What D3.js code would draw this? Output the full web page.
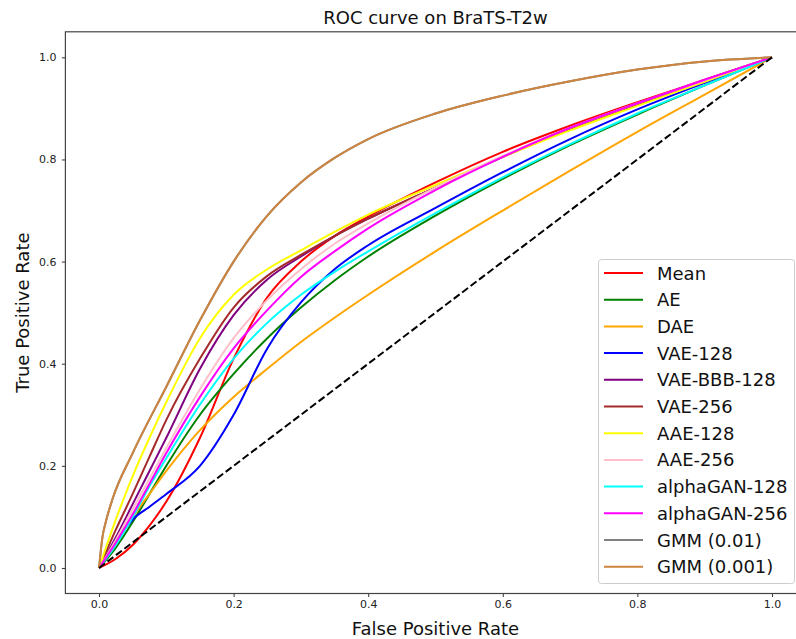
<!DOCTYPE html>
<html>
<head>
<meta charset="utf-8">
<script src="https://cdn.jsdelivr.net/npm/d3@7"></script>
<style>
  html, body { margin: 0; padding: 0; background: #fff; }
  svg { display: block; font-family: "DejaVu Sans", sans-serif; }
</style>
</head>
<body>
<svg id="chart" width="796" height="639"></svg>
<script>
// False positive rates shared by the model curves
const fprGrid = [0, 0.025, 0.05, 0.075, 0.1, 0.15, 0.2, 0.25, 0.3, 0.35, 0.4, 0.5, 0.6, 0.7, 0.8, 0.9, 1.0];
// False positive rates for the GMM baselines
const fprGmm = [0, 0.005, 0.01, 0.02, 0.05, 0.1, 0.15, 0.2, 0.25, 0.3, 0.35, 0.4, 0.5, 0.6, 0.7, 0.8, 0.9, 1.0];

// True positive rates per model
const tprMean       = [0, 0.018, 0.045, 0.083, 0.13, 0.255, 0.41, 0.53, 0.6, 0.65, 0.688, 0.755, 0.815, 0.866, 0.912, 0.956, 1];
const tprAE         = [0, 0.04, 0.09, 0.145, 0.2, 0.3, 0.38, 0.45, 0.51, 0.563, 0.61, 0.69, 0.762, 0.828, 0.888, 0.945, 1];
const tprDAE        = [0, 0.05, 0.1, 0.145, 0.19, 0.27, 0.335, 0.39, 0.4425, 0.49, 0.535, 0.62, 0.7, 0.778, 0.854, 0.927, 1];
const tprVAE128     = [0, 0.05, 0.095, 0.12, 0.145, 0.2, 0.3, 0.43, 0.52, 0.585, 0.632, 0.705, 0.775, 0.84, 0.898, 0.95, 1];
const tprVAEBBB128  = [0, 0.06, 0.125, 0.19, 0.255, 0.39, 0.495, 0.565, 0.61, 0.65, 0.684, 0.745, 0.805, 0.86, 0.908, 0.955, 1];
const tprVAE256     = [0, 0.075, 0.145, 0.218, 0.29, 0.41, 0.51, 0.572, 0.613, 0.65, 0.684, 0.745, 0.805, 0.86, 0.908, 0.955, 1];
const tprAAE128     = [0, 0.095, 0.18, 0.255, 0.325, 0.45, 0.535, 0.585, 0.622, 0.658, 0.692, 0.75, 0.805, 0.857, 0.905, 0.952, 1];
const tprAAE256     = [0, 0.055, 0.115, 0.175, 0.235, 0.35, 0.45, 0.525, 0.585, 0.635, 0.675, 0.745, 0.807, 0.862, 0.91, 0.955, 1];
const tprGAN128     = [0, 0.045, 0.1, 0.16, 0.215, 0.32, 0.41, 0.48, 0.535, 0.58, 0.62, 0.695, 0.765, 0.83, 0.89, 0.945, 1];
const tprGAN256     = [0, 0.05, 0.105, 0.165, 0.225, 0.335, 0.43, 0.505, 0.57, 0.62, 0.665, 0.74, 0.805, 0.862, 0.91, 0.956, 1];
const tprGMM01      = [0, 0.06, 0.09, 0.135, 0.225, 0.355, 0.485, 0.6, 0.69, 0.755, 0.803, 0.84, 0.89, 0.925, 0.953, 0.976, 0.992, 1];
const tprGMM001     = [0, 0.06, 0.09, 0.135, 0.225, 0.355, 0.485, 0.6, 0.69, 0.755, 0.803, 0.84, 0.89, 0.925, 0.953, 0.976, 0.992, 1];

const seriesNames = ["Mean", "AE", "DAE", "VAE-128", "VAE-BBB-128", "VAE-256", "AAE-128", "AAE-256",
                     "alphaGAN-128", "alphaGAN-256", "GMM (0.01)", "GMM (0.001)"];
const seriesTpr = [tprMean, tprAE, tprDAE, tprVAE128, tprVAEBBB128, tprVAE256, tprAAE128, tprAAE256,
                   tprGAN128, tprGAN256, tprGMM01, tprGMM001];
const seriesFpr = [fprGrid, fprGrid, fprGrid, fprGrid, fprGrid, fprGrid, fprGrid, fprGrid,
                   fprGrid, fprGrid, fprGmm, fprGmm];

const tickValues = [0, 0.2, 0.4, 0.6, 0.8, 1.0];

// Line colours, one per model
const colors = ["#ff0000", "#008000", "#ffa500", "#0000ff", "#800080", "#a52a2a", "#ffff00", "#ffc0cb",
                "#00ffff", "#ff00ff", "#808080", "#cd853f"];

const svg = d3.select("#chart");

// Axes box: the data range is padded by 5% on each side
const x = d3.scaleLinear().domain([-0.05, 1.05]).range([65.4, 805.6]);
const y = d3.scaleLinear().domain([-0.05, 1.05]).range([593.5, 31.8]);

const plot = svg.append("g");

const line = d3.line()
  .x(d => x(d[0]))
  .y(d => y(d[1]))
  .curve(d3.curveMonotoneX);

seriesNames.forEach((name, i) => {
  const pts = seriesFpr[i].map((f, j) => [f, seriesTpr[i][j]]);
  plot.append("path")
    .attr("d", line(pts))
    .attr("fill", "none")
    .attr("stroke", colors[i])
    .attr("stroke-width", 2)
    .attr("stroke-linejoin", "round");
});

// Chance diagonal
plot.append("path")
  .attr("d", d3.line().x(d => x(d[0])).y(d => y(d[1]))([[0, 0], [1, 1]]))
  .attr("fill", "none")
  .attr("stroke", "#000")
  .attr("stroke-width", 2)
  .attr("stroke-dasharray", "7.4,3.2");

// Axes
const fmt = d3.format(".1f");
const xAxis = svg.append("g")
  .attr("transform", `translate(0,${y(-0.05)})`)
  .call(d3.axisBottom(x).tickValues(tickValues).tickFormat(fmt).tickSize(3.5).tickPadding(3.5));
const yAxis = svg.append("g")
  .attr("transform", `translate(${x(-0.05)},0)`)
  .call(d3.axisLeft(y).tickValues(tickValues).tickFormat(fmt).tickSize(3.5).tickPadding(5.5));
[xAxis, yAxis].forEach(a => {
  a.select(".domain").remove();
  a.selectAll(".tick line").attr("stroke", "#333").attr("stroke-width", 1);
  a.selectAll(".tick text").attr("fill", "#222").style("font-size", "11px").style("font-family", "DejaVu Sans");
});

// Frame
svg.append("rect")
  .attr("x", x(-0.05)).attr("y", y(1.05))
  .attr("width", x(1.05) - x(-0.05)).attr("height", y(-0.05) - y(1.05))
  .attr("fill", "none").attr("stroke", "#444").attr("stroke-width", 1.2);

// Titles
svg.append("text")
  .attr("x", (x(-0.05) + x(1.05)) / 2).attr("y", 24)
  .attr("text-anchor", "middle")
  .style("font-size", "18px").attr("fill", "#111")
  .text("ROC curve on BraTS-T2w");
svg.append("text")
  .attr("x", (x(-0.05) + x(1.05)) / 2).attr("y", 635)
  .attr("text-anchor", "middle")
  .style("font-size", "18px").attr("fill", "#111")
  .text("False Positive Rate");
svg.append("text")
  .attr("transform", `translate(29,${(y(-0.05) + y(1.05)) / 2}) rotate(-90)`)
  .attr("text-anchor", "middle")
  .style("font-size", "18px").attr("fill", "#111")
  .text("True Positive Rate");

// Legend
const lg = svg.append("g");
lg.append("rect")
  .attr("x", 598.5).attr("y", 259.5).attr("width", 196).attr("height", 324)
  .attr("rx", 3).attr("fill", "#fff").attr("fill-opacity", 0.85)
  .attr("stroke", "#cccccc").attr("stroke-width", 1);
seriesNames.forEach((name, i) => {
  const cy = 273 + i * 26.7;
  lg.append("line")
    .attr("x1", 604).attr("x2", 643).attr("y1", cy).attr("y2", cy)
    .attr("stroke", colors[i]).attr("stroke-width", 2);
  lg.append("text")
    .attr("x", 657).attr("y", cy + 6.5)
    .style("font-size", "18px").attr("fill", "#111")
    .text(name);
});
</script>
</body>
</html>
